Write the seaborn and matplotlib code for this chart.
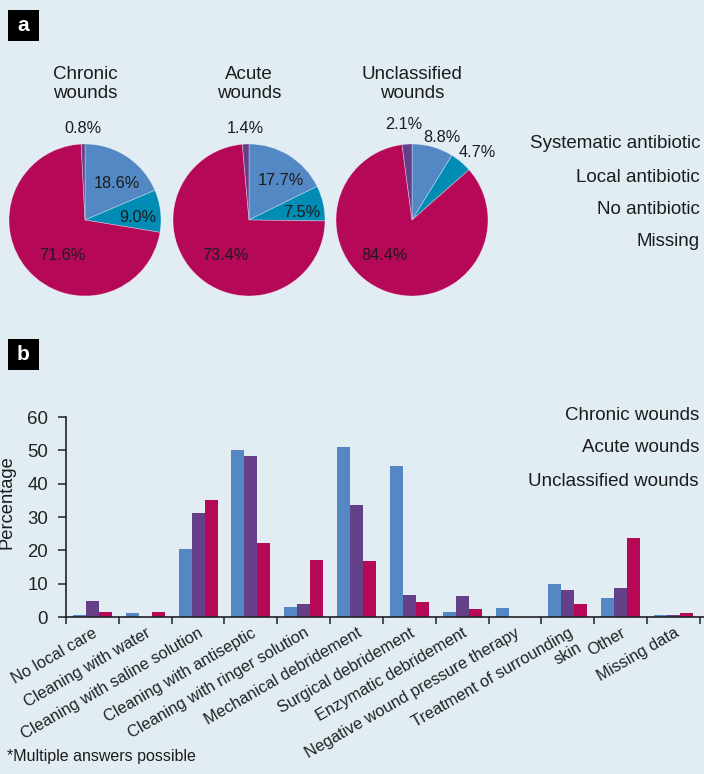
import numpy as np
import pandas as pd
import matplotlib
matplotlib.use("Agg")
import matplotlib.pyplot as plt
from matplotlib.patches import Rectangle
import seaborn as sns

# ---- Panel a: antibiotic treatment by wound type (%) ----
pie_titles = ["Chronic\nwounds", "Acute\nwounds", "Unclassified\nwounds"]
antibiotic_labels = ["Systematic antibiotic", "Local antibiotic", "No antibiotic", "Missing"]
chronic_pct = [18.6, 9.0, 71.6, 0.8]
acute_pct = [17.7, 7.5, 73.4, 1.4]
unclassified_pct = [8.8, 4.7, 84.4, 2.1]

# ---- Panel b: local wound care by wound type (%) ----
care_labels = [
    "No local care",
    "Cleaning with water",
    "Cleaning with saline solution",
    "Cleaning with antiseptic",
    "Cleaning with ringer solution",
    "Mechanical debridement",
    "Surgical debridement",
    "Enzymatic debridement",
    "Negative wound pressure therapy",
    "Treatment of surrounding\nskin",
    "Other",
    "Missing data",
]
wound_types = ["Chronic wounds", "Acute wounds", "Unclassified wounds"]
chronic_care = [0.7, 1.3, 20.5, 50.2, 3.1, 51.1, 45.4, 1.6, 2.8, 10.0, 5.8, 0.7]
acute_care = [4.9, 0.0, 31.3, 48.4, 4.0, 33.7, 6.7, 6.4, 0.0, 8.2, 8.8, 0.7]
unclassified_care = [1.6, 1.6, 35.2, 22.3, 17.2, 16.9, 4.6, 2.5, 0.0, 4.0, 23.8, 1.3]

# ---- Styling ----
BG = "#E1ECF3"
TXT = "#1c1c1c"
BLUE = "#5388C4"
TEAL = "#008CB4"
MAGENTA = "#B50857"
PURPLE = "#634087"
pie_colors = [BLUE, TEAL, MAGENTA, PURPLE]
bar_colors = [BLUE, PURPLE, MAGENTA]

sns.set_theme(style="ticks")
plt.rcParams["font.family"] = ["Liberation Sans", "DejaVu Sans"]
plt.rcParams["text.color"] = TXT
plt.rcParams["axes.labelcolor"] = TXT
plt.rcParams["xtick.color"] = "#222222"
plt.rcParams["ytick.color"] = "#222222"

W, H = 704, 774
fig = plt.figure(figsize=(W / 100, H / 100), dpi=100, facecolor=BG)


def px_axes(x0, y0, w, h):
    """Add axes positioned in figure pixels measured from the top-left."""
    ax = fig.add_axes([x0 / W, 1 - (y0 + h) / H, w / W, h / H])
    ax.set_facecolor("none")
    return ax


def panel_tag(x0, y0, letter):
    fig.patches.append(Rectangle((x0 / W, 1 - (y0 + 31) / H), 31 / W, 31 / H,
                                 transform=fig.transFigure, facecolor="black",
                                 edgecolor="none"))
    fig.text((x0 + 15.5) / W, 1 - (y0 + 15.5) / H, letter, color="white",
             fontsize=15, fontweight="bold", ha="center", va="center")


panel_tag(8, 10, "a")
panel_tag(8, 339, "b")

# ---- Pies ----
R = 76
pie_centers = [(85, 220), (249, 220), (412, 220)]
pie_values = [chronic_pct, acute_pct, unclassified_pct]
# (radial distance, angular nudge in degrees) for each slice label
label_style = [
    [(0.64, -7), (0.69, -4), (0.55, 16), (1.21, 0)],
    [(0.67, -7), (0.70, -5), (0.57, 9), (1.21, 0)],
    [(1.16, -4), (1.24, -4), (0.59, -18), (1.26, 1)],
]
for (cx, cy), vals, title, style in zip(pie_centers, pie_values, pie_titles, label_style):
    ax = px_axes(cx - R, cy - R, 2 * R, 2 * R)
    wedges, _ = ax.pie(vals, colors=pie_colors, startangle=90, counterclock=False,
                       radius=1, wedgeprops=dict(linewidth=0.5, edgecolor=(1, 1, 1, 0.45)))
    ax.set_xlim(-1, 1)
    ax.set_ylim(-1, 1)
    for w, v, (dist, nudge) in zip(wedges, vals, style):
        ang = np.deg2rad((w.theta1 + w.theta2) / 2 + nudge)
        ax.text(dist * np.cos(ang), dist * np.sin(ang), f"{v:.1f}%",
                ha="center", va="center", fontsize=11.7, clip_on=False)
    ax.text(0, 1.79, title, ha="center", va="center", fontsize=13.5,
            linespacing=1.2, clip_on=False)

for label, y in zip(antibiotic_labels, [143, 177, 209, 242]):
    fig.text(700 / W, 1 - y / H, label, ha="right", va="center", fontsize=13.5)

# ---- Bars ----
df = pd.DataFrame({
    "care": care_labels * 3,
    "wound": np.repeat(wound_types, len(care_labels)),
    "pct": chronic_care + acute_care + unclassified_care,
})
bx = px_axes(66, 417, W - 66, 200)
sns.barplot(data=df, x="care", y="pct", hue="wound", order=care_labels,
            hue_order=wound_types, palette=bar_colors, width=0.74,
            saturation=1, legend=False, ax=bx, linewidth=0)
n = len(care_labels)
bx.set_ylim(0, 60)
bx.set_xlim(-0.5, n - 0.5 + 4 / 52.8)
bx.set_yticks(np.arange(0, 61, 10))
bx.set_xticks(np.arange(-0.5, n, 1))
bx.set_xticklabels([])
bx.set_xticks(np.arange(n), minor=True)
bx.set_xticklabels(care_labels, minor=True, rotation=30, ha="right", va="top",
                   rotation_mode="anchor", fontsize=11.8)
bx.tick_params(axis="x", which="major", direction="out", length=5, width=1.1)
bx.tick_params(axis="x", which="minor", length=0, pad=6)
bx.tick_params(axis="y", direction="out", length=6, width=1.1, labelsize=13.4, pad=7)
for s in ("top", "right"):
    bx.spines[s].set_visible(False)
for s in ("left", "bottom"):
    bx.spines[s].set_linewidth(1.2)
    bx.spines[s].set_color("#222222")
bx.set_xlabel("")
bx.set_ylabel("Percentage", fontsize=13.2)
bx.yaxis.set_label_coords((16 - 66) / (W - 66), 0.575)

for label, y in zip(wound_types, [415, 448, 482]):
    fig.text(699 / W, 1 - y / H, label, ha="right", va="center", fontsize=13.5)

fig.text(7 / W, 1 - 757 / H, "*Multiple answers possible", ha="left", va="center",
         fontsize=11.5)

fig.savefig("out.png", dpi=100, facecolor=BG)
